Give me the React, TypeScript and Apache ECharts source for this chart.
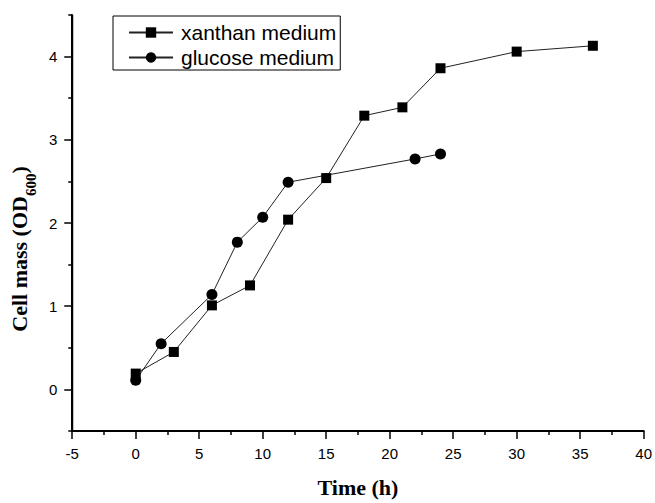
import React, { useEffect, useRef } from 'react';
import * as echarts from 'echarts';

const xanthanTime = [0, 3, 6, 9, 12, 15, 18, 21, 24, 30, 36];
const xanthanOD = [0.19, 0.45, 1.01, 1.25, 2.04, 2.54, 3.29, 3.39, 3.86, 4.06, 4.13];
const glucoseTime = [0, 2, 6, 8, 10, 12, 22, 24];
const glucoseOD = [0.11, 0.55, 1.14, 1.77, 2.07, 2.49, 2.77, 2.83];
const seriesNames = ['xanthan medium', 'glucose medium'];
const xRange = [-5, 40];
const yRange = [-0.5, 4.5];
const yMajorTicks = [0, 1, 2, 3, 4];
const yMinorTicks = [-0.5, 0.5, 1.5, 2.5, 3.5, 4.5];

const SANS = "Arial, 'Liberation Sans', sans-serif";
const SERIF = "'Times New Roman', 'Liberation Serif', serif";

export default function App() {
  const ref = useRef<HTMLDivElement>(null);
  useEffect(() => {
    if (!ref.current) return;
    const chart = echarts.init(ref.current, undefined, { renderer: 'svg' });
    chart.setOption({
      animation: false,
      backgroundColor: '#fff',
      grid: { left: 68, right: 10, top: 15, bottom: 67, containLabel: false },
      legend: {
        orient: 'vertical',
        left: 113,
        top: 16,
        itemWidth: 44,
        itemHeight: 13,
        itemGap: 4,
        padding: [6, 4, 2, 15],
        borderColor: '#000',
        borderWidth: 1,
        textStyle: { fontFamily: SANS, fontSize: 21, color: '#000', padding: [0, 0, 0, 3] },
        data: seriesNames,
      },
      xAxis: {
        type: 'value',
        min: xRange[0],
        max: xRange[1],
        interval: 5,
        axisLine: { show: true, onZero: false, lineStyle: { color: '#000', width: 2 } },
        axisTick: { show: true, inside: false, length: 8, lineStyle: { color: '#000', width: 1.5 } },
        minorTick: { show: true, splitNumber: 2, length: 4, lineStyle: { color: '#000', width: 1.5 } },
        splitLine: { show: false },
        axisLabel: { fontFamily: SANS, fontSize: 15, color: '#000', margin: 15 },
        name: 'Time (h)',
        nameLocation: 'middle',
        nameGap: 45,
        nameTextStyle: { fontFamily: SERIF, fontWeight: 'bold', fontSize: 22, color: '#000' },
      },
      yAxis: [
        {
          type: 'value',
          min: yRange[0],
          max: yRange[1],
          position: 'left',
          axisLine: { show: true, onZero: false, lineStyle: { color: '#000', width: 2 } },
          axisTick: { show: true, inside: false, length: 8, customValues: yMajorTicks, lineStyle: { color: '#000', width: 1.5 } },
          axisLabel: { fontFamily: SANS, fontSize: 15, color: '#000', margin: 15, customValues: yMajorTicks },
          splitLine: { show: false },
          name: '{a|Cell mass (OD}{b|600}{a|)}',
          nameLocation: 'middle',
          nameGap: 34,
          nameTextStyle: {
            fontFamily: SERIF,
            fontWeight: 'bold',
            fontSize: 22,
            color: '#000',
            padding: [0, 52, 0, 0],
            rich: {
              a: { fontFamily: SERIF, fontWeight: 'bold', fontSize: 22, color: '#000', lineHeight: 30, verticalAlign: 'top' },
              b: { fontFamily: SERIF, fontWeight: 'bold', fontSize: 15, color: '#000', lineHeight: 15, verticalAlign: 'bottom' },
            },
          },
        },
        {
          type: 'value',
          min: yRange[0],
          max: yRange[1],
          position: 'left',
          offset: 0,
          axisLine: { show: false, onZero: false },
          axisTick: { show: true, inside: false, length: 4, customValues: yMinorTicks, lineStyle: { color: '#000', width: 1.5 } },
          axisLabel: { show: false },
          splitLine: { show: false },
        },
      ],
      series: [
        {
          // left and bottom frame lines of the plot, drawn through the axes' own scales
          name: 'frame',
          type: 'line',
          data: [
            [xRange[0], yRange[1]],
            [xRange[0], yRange[0]],
            [xRange[1], yRange[0]],
          ],
          symbol: 'none',
          silent: true,
          clip: false,
          z: 1,
          lineStyle: { color: '#000', width: 2 },
          itemStyle: { color: '#000' },
        },
        {
          name: seriesNames[0],
          type: 'line',
          data: xanthanTime.map((t, i) => [t, xanthanOD[i]]),
          symbol: 'rect',
          symbolSize: 10,
          z: 3,
          itemStyle: { color: '#000' },
          lineStyle: { color: '#222', width: 1 },
        },
        {
          name: seriesNames[1],
          type: 'line',
          data: glucoseTime.map((t, i) => [t, glucoseOD[i]]),
          symbol: 'circle',
          symbolSize: 11,
          z: 3,
          itemStyle: { color: '#000' },
          lineStyle: { color: '#222', width: 1 },
        },
      ],
    });
    return () => chart.dispose();
  }, []);
  return (
    <div style={{ position: 'fixed', left: 0, top: 0, width: 655, height: 503, background: '#fff' }}>
      <div ref={ref} style={{ width: 655, height: 503 }} />
    </div>
  );
}
